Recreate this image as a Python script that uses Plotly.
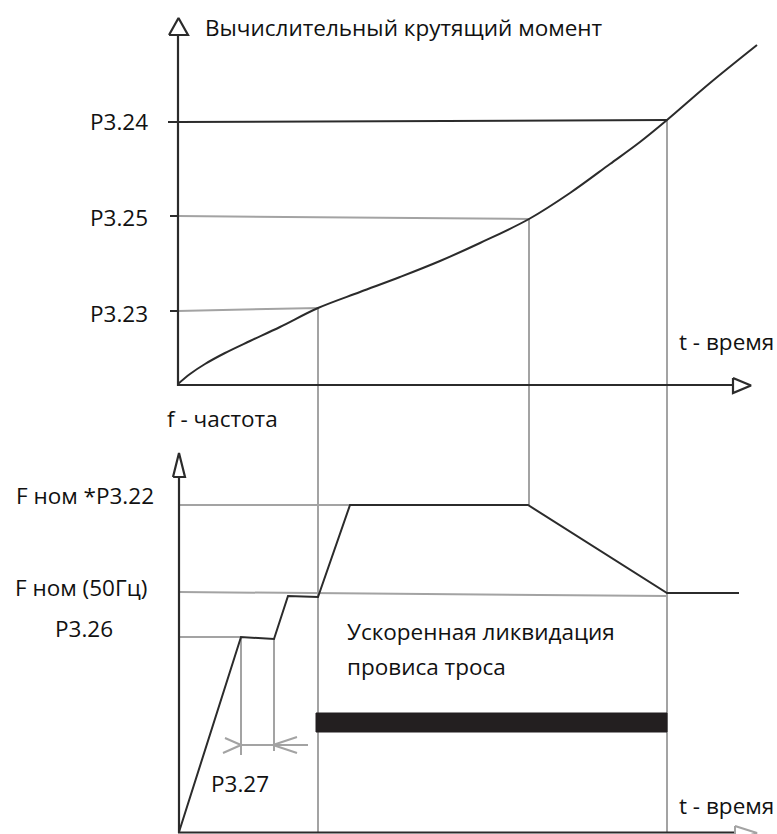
import plotly.graph_objects as go

# Diagram coordinates (canvas units, y grows downward)
# ---- top panel: computed torque vs time ----
torque_curve_x = [178, 190, 205, 225, 250, 280, 318, 360, 400, 440, 480, 529, 570, 610, 640, 667, 710, 757]
torque_curve_y = [384, 374, 364, 353, 341, 327, 308, 292, 277, 261, 243, 219, 193, 164, 142, 120, 83, 45]

top_tick_labels = ["P3.24", "P3.25", "P3.23"]
top_tick_y = [122, 216, 311]
top_label_y = [121, 217, 313]

# ---- bottom panel: frequency vs time ----
freq_curve_x = [179, 241, 274, 288, 318, 350, 528, 667, 739]
freq_curve_y = [832, 637, 639, 596, 597, 505, 505, 593, 593]

bottom_labels = ["F ном *P3.22", "F ном (50Гц)", "P3.26"]

DARK = "#2b2b2b"
GRAY = "#a3a3a3"
FONT = "Open Sans"
FS = 22.5

fig = go.Figure()


def seg(xs, ys, color, width, fill=None, shape="linear"):
    fig.add_trace(go.Scatter(
        x=xs, y=ys, mode="lines",
        line=dict(color=color, width=width, shape=shape),
        fill="toself" if fill else None,
        fillcolor=fill,
        hoverinfo="skip", showlegend=False))


# gray guide lines (drawn first, behind)
seg([178, 318, 318], [311, 308, 832], GRAY, 2)          # P3.23 level -> vertical
seg([178, 529, 529], [216, 219, 505], GRAY, 2)          # P3.25 level -> vertical
seg([667, 667], [120, 832], GRAY, 2)                    # P3.24 vertical
seg([179, 528], [505, 505], GRAY, 2)                    # F ном*P3.22
seg([179, 667], [592, 596], GRAY, 2)                    # F ном (50Гц)
seg([179, 241], [637, 637], GRAY, 2)                    # P3.26
seg([241, 241], [637, 755], GRAY, 2)
seg([274, 274], [639, 751], GRAY, 2)
seg([241, 308], [745, 745], GRAY, 2)                    # P3.27 bracket
seg([223, 241, 225], [753, 745, 738], GRAY, 2)
seg([297, 273, 297], [737, 745, 753], GRAY, 2)

# black lines
seg([168, 178], [122, 122], DARK, 2)
seg([170, 178], [216, 216], DARK, 2)
seg([170, 178], [311, 311], DARK, 2)
seg([178, 667], [122, 120], DARK, 2)                    # P3.24 level

# top axes
seg([178, 178], [386, 35], DARK, 2.2)
seg([169, 188, 178.5, 169], [35, 35, 18, 35], DARK, 2.2, fill="white")
seg([177, 733], [385, 385], DARK, 2.2)
seg([733, 733, 751, 733], [378, 393, 385.5, 378], DARK, 2.2, fill="white")

# bottom axes
seg([179, 179], [833, 477], DARK, 2.2)
seg([173, 185, 179, 173], [477, 477, 453, 477], DARK, 2.2, fill="white")
seg([178, 738], [832.5, 832.5], DARK, 2.2)
seg([735, 735, 757, 735], [826, 840, 833, 826], GRAY, 2, fill="white")

# curves
seg(torque_curve_x, torque_curve_y, DARK, 2, shape="spline")
seg(freq_curve_x, freq_curve_y, DARK, 2)

# black bar
seg([316, 667, 667, 316, 316], [713, 713, 732, 732, 713], "#231f20", 1, fill="#231f20")

ann = []


def txt(x, y, s, anchor="left", size=FS):
    ann.append(dict(x=x, y=y, xref="x", yref="y", text=s, showarrow=False,
                    xanchor=anchor, yanchor="middle",
                    font=dict(family=FONT, size=size, color="#111111")))


txt(203, 27, "Вычислительный крутящий момент")
for lab, yy in zip(top_tick_labels, top_label_y):
    txt(150, yy, lab, anchor="right")
txt(776, 341, "t - время", anchor="right")
txt(165, 418, "f - частота")
txt(156, 495, bottom_labels[0], anchor="right")
txt(149, 587, bottom_labels[1], anchor="right")
txt(84, 628, bottom_labels[2], anchor="center")
txt(345, 631, "Ускоренная ликвидация")
txt(345, 666, "провиса троса")
txt(240, 783, "P3.27", anchor="center")
txt(776, 805, "t - время", anchor="right")

fig.update_layout(
    width=777, height=834,
    margin=dict(l=0, r=0, t=0, b=0),
    paper_bgcolor="white", plot_bgcolor="white",
    annotations=ann,
    xaxis=dict(range=[0, 777], visible=False, fixedrange=True),
    yaxis=dict(range=[834, 0], visible=False, fixedrange=True),
    showlegend=False,
)

fig.write_html(
    "out.html",
    config={"displayModeBar": False},
    post_script="document.body.style.margin='0';document.body.style.overflow='hidden';",
)
